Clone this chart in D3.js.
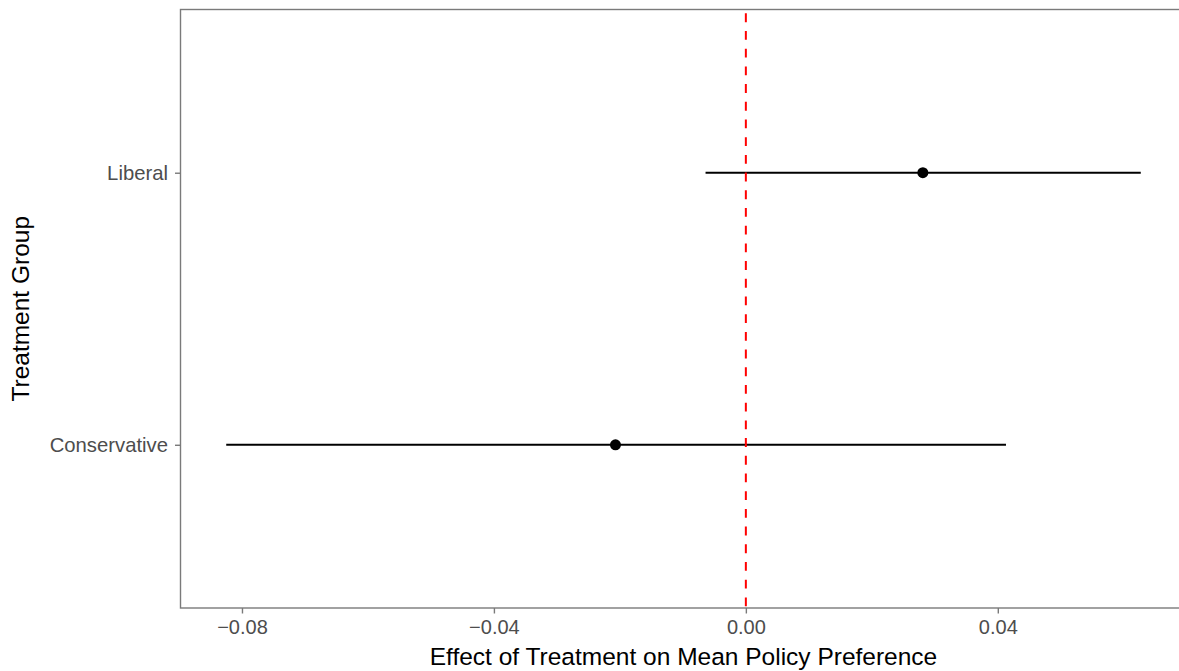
<!DOCTYPE html>
<html>
<head>
<meta charset="utf-8">
<script src="https://cdn.jsdelivr.net/npm/d3@7"></script>
<style>
  body { margin: 0; background: #fff; }
  svg { display: block; font-family: "Liberation Sans", Arial, sans-serif; }
</style>
</head>
<body>
<div id="chart"></div>
<script>
// treatment groups, bottom to top
var groups = ["Conservative", "Liberal"];
var estimates = [-0.0207, 0.0281];
var lower = [-0.0825, -0.0064];
var upper = [0.0413, 0.0627];
var xTicks = [-0.08, -0.04, 0.00, 0.04];
var xTickLabels = ["\u22120.08", "\u22120.04", "0.00", "0.04"];
var refValue = 0;

var width = 1179, height = 671;
var margin = {left: 180.5, top: 9.5, right: -7.5, bottom: 63};
var panelW = width - margin.left - margin.right;
var panelH = height - margin.top - margin.bottom;

var rows = groups.map(function(g, i) {
    return {group: g, est: estimates[i], lo: lower[i], hi: upper[i]};
});

// ggplot-style 5% expansion of the data range
var lo = d3.min(lower), hi = d3.max(upper);
var pad = (hi - lo) * 0.05;

var x = d3.scaleLinear()
    .domain([lo - pad, hi + pad])
    .range([margin.left, margin.left + panelW]);

var y = d3.scalePoint()
    .domain(groups)
    .range([margin.top + panelH, margin.top])
    .padding(0.6);

var svg = d3.select("#chart").append("svg")
    .attr("width", width)
    .attr("height", height);

var axisColor = "#7a7a7a";

svg.append("defs").append("clipPath").attr("id", "panel-clip")
    .append("rect")
    .attr("x", margin.left).attr("y", margin.top)
    .attr("width", panelW).attr("height", panelH);

var panel = svg.append("g").attr("clip-path", "url(#panel-clip)");

// intervals
panel.selectAll(".ci").data(rows).enter().append("line")
    .attr("class", "ci")
    .attr("x1", function(d) { return x(d.lo); })
    .attr("x2", function(d) { return x(d.hi); })
    .attr("y1", function(d) { return y(d.group); })
    .attr("y2", function(d) { return y(d.group); })
    .attr("stroke", "#000")
    .attr("stroke-width", 1.8);

// reference line
panel.append("line")
    .attr("x1", x(refValue)).attr("x2", x(refValue))
    .attr("y1", margin.top).attr("y2", margin.top + panelH)
    .attr("stroke", "#ff0000")
    .attr("stroke-width", 2)
    .attr("stroke-dasharray", "8.85,8.85")
    .attr("stroke-dashoffset", 13.9);

// point estimates
panel.selectAll(".pt").data(rows).enter().append("circle")
    .attr("class", "pt")
    .attr("cx", function(d) { return x(d.est); })
    .attr("cy", function(d) { return y(d.group); })
    .attr("r", 5.5)
    .attr("fill", "#000");

// panel border (right edge falls outside the image)
svg.append("rect")
    .attr("x", margin.left).attr("y", margin.top)
    .attr("width", panelW).attr("height", panelH)
    .attr("stroke", axisColor)
    .attr("stroke-width", 1.4)
    .attr("fill", "none");

// x axis
var xAxis = d3.axisBottom(x)
    .tickValues(xTicks)
    .tickFormat(function(d, i) { return xTickLabels[i]; })
    .tickSize(5.5)
    .tickPadding(6);

var gx = svg.append("g")
    .attr("transform", "translate(0," + (margin.top + panelH) + ")")
    .call(xAxis);
gx.select(".domain").remove();
gx.selectAll(".tick line").attr("stroke", axisColor).attr("stroke-width", 1.4);
gx.selectAll(".tick text")
    .attr("fill", "#4d4d4d")
    .style("font-size", "20px");

// y axis
var yAxis = d3.axisLeft(y)
    .tickSize(5.5)
    .tickPadding(7);

var gy = svg.append("g")
    .attr("transform", "translate(" + margin.left + ",0)")
    .call(yAxis);
gy.select(".domain").remove();
gy.selectAll(".tick line").attr("stroke", axisColor).attr("stroke-width", 1.4);
gy.selectAll(".tick text")
    .attr("fill", "#4d4d4d")
    .style("font-size", "20.3px");

// axis titles
svg.append("text")
    .attr("x", margin.left + panelW / 2)
    .attr("y", 664.5)
    .attr("text-anchor", "middle")
    .style("font-size", "24.5px")
    .attr("fill", "#000")
    .text("Effect of Treatment on Mean Policy Preference");

svg.append("text")
    .attr("transform", "translate(29," + (margin.top + panelH / 2) + ") rotate(-90)")
    .attr("text-anchor", "middle")
    .style("font-size", "24.5px")
    .attr("fill", "#000")
    .text("Treatment Group");
</script>
</body>
</html>
